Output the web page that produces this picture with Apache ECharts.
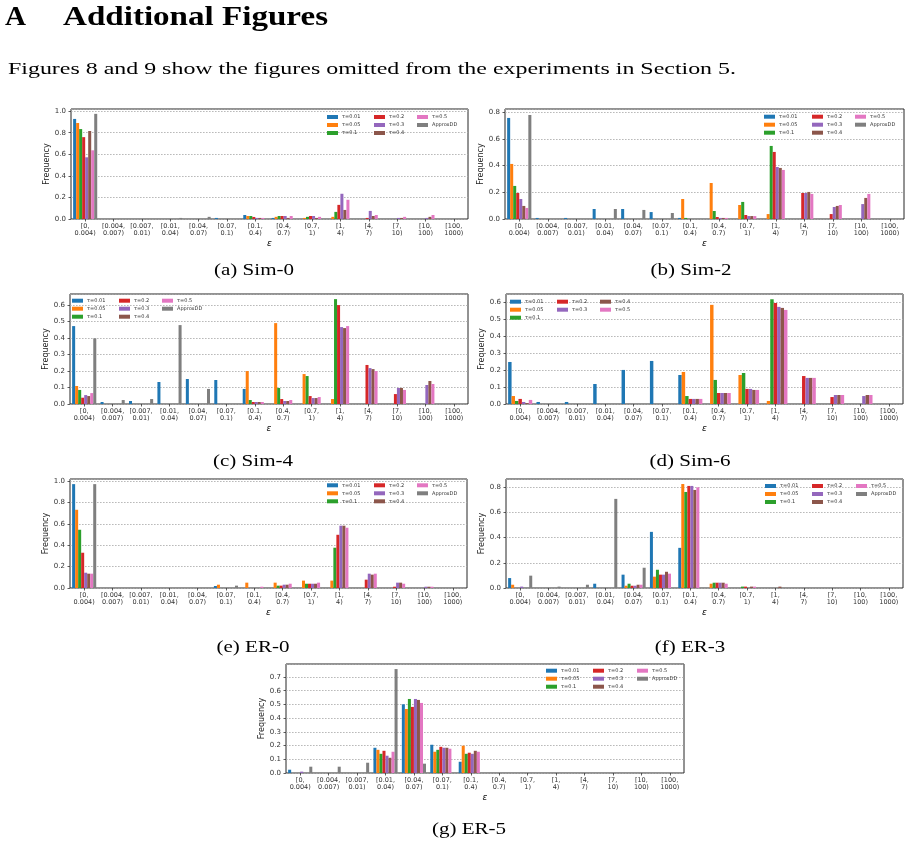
<!DOCTYPE html>
<html><head><meta charset="utf-8">
<script src="https://cdn.jsdelivr.net/npm/echarts@6/dist/echarts.min.js"></script>
<style>html,body{margin:0;padding:0;background:#fff}#c{width:911px;height:846px}</style>
</head><body><div id="c"></div>
<script>
// ---------- categories / names ----------
const categories = ['[0,\n0.004)','[0.004,\n0.007)','[0.007,\n0.01)','[0.01,\n0.04)','[0.04,\n0.07)','[0.07,\n0.1)','[0.1,\n0.4)','[0.4,\n0.7)','[0.7,\n1)','[1,\n4)','[4,\n7)','[7,\n10)','[10,\n100)','[100,\n1000)'];
const seriesNames = ['τ=0.01','τ=0.05','τ=0.1','τ=0.2','τ=0.3','τ=0.4','τ=0.5','ApproxDD'];
const yTicks1 = [0,0.2,0.4,0.6,0.8,1.0];
// ---------- Sim-0 ----------
const sim0_t001 = [0.928,0,0,0,0,0.01,0.037,0.01,0,0,0,0,0,0];
const sim0_t005 = [0.89,0,0,0,0,0,0.028,0.02,0.01,0.02,0,0,0,0];
const sim0_t01  = [0.834,0,0,0,0,0,0.028,0.028,0.02,0.066,0,0,0,0];
const sim0_t02  = [0.759,0,0,0,0,0,0.019,0.028,0.028,0.131,0.01,0,0,0];
const sim0_t03  = [0.572,0,0,0,0,0,0.01,0.028,0.028,0.234,0.075,0.01,0.01,0];
const sim0_t04  = [0.816,0,0,0,0,0,0.01,0.01,0.01,0.084,0.028,0.01,0.02,0];
const sim0_t05  = [0.637,0,0,0,0,0,0.01,0.028,0.02,0.178,0.037,0.02,0.037,0];
const sim0_dd   = [0.975,0,0,0.01,0.02,0,0,0,0,0,0,0,0,0];
// ---------- Sim-2 ----------
const sim2_t001 = [0.758,0.008,0.008,0.075,0.075,0.052,0.008,0,0,0,0,0,0,0];
const sim2_t005 = [0.413,0,0,0,0,0,0.15,0.27,0.105,0.037,0,0,0,0];
const sim2_t01  = [0.248,0,0,0,0,0,0.008,0.06,0.128,0.548,0,0,0,0];
const sim2_t02  = [0.195,0,0,0,0,0,0,0.015,0.03,0.503,0.195,0.037,0,0];
const sim2_t03  = [0.15,0,0,0,0,0,0,0.008,0.022,0.39,0.195,0.09,0.112,0];
const sim2_t04  = [0.098,0,0,0,0,0,0,0.008,0.022,0.383,0.203,0.098,0.158,0];
const sim2_t05  = [0.083,0,0,0,0,0,0,0.008,0.022,0.368,0.188,0.105,0.188,0];
const sim2_dd   = [0.78,0,0,0.075,0.068,0.045,0,0,0,0,0,0,0,0];
// ---------- Sim-4 ----------
const sim4_t001 = [0.471,0.012,0.018,0.133,0.151,0.145,0.091,0,0,0,0,0,0,0];
const sim4_t005 = [0.109,0,0,0,0,0,0.199,0.489,0.181,0.03,0,0,0,0];
const sim4_t01  = [0.085,0,0,0,0,0,0.024,0.097,0.169,0.634,0,0,0,0];
const sim4_t02  = [0.038,0,0,0,0,0,0.012,0.03,0.048,0.598,0.236,0.06,0,0];
const sim4_t03  = [0.054,0,0,0,0,0,0.012,0.018,0.036,0.465,0.217,0.097,0.115,0];
const sim4_t04  = [0.048,0,0,0,0,0,0.012,0.018,0.036,0.459,0.211,0.097,0.139,0];
const sim4_t05  = [0.066,0,0,0,0,0,0.012,0.024,0.042,0.471,0.199,0.085,0.121,0];
const sim4_dd   = [0.397,0.024,0.03,0.477,0.091,0,0,0,0,0,0,0,0,0];
// ---------- Sim-6 (no ApproxDD) ----------
const sim6_t001 = [0.248,0.012,0.012,0.118,0.201,0.254,0.171,0,0,0,0,0,0,0];
const sim6_t005 = [0.047,0,0,0,0,0,0.189,0.585,0.171,0.018,0,0,0,0];
const sim6_t01  = [0.018,0,0,0,0,0,0.047,0.142,0.183,0.618,0,0,0,0];
const sim6_t02  = [0.03,0,0,0,0,0,0.03,0.065,0.089,0.596,0.165,0.041,0,0];
const sim6_t03  = [0.012,0,0,0,0,0,0.03,0.065,0.089,0.573,0.154,0.053,0.047,0];
const sim6_t04  = [0.006,0,0,0,0,0,0.03,0.065,0.083,0.567,0.154,0.053,0.053,0];
const sim6_t05  = [0.024,0,0,0,0,0,0.03,0.065,0.083,0.555,0.154,0.053,0.053,0];
// ---------- ER-0 ----------
const er0_t001 = [0.972,0,0,0,0,0.019,0,0,0,0,0,0,0,0];
const er0_t005 = [0.732,0,0,0,0,0.031,0.05,0.05,0.069,0.069,0,0,0,0];
const er0_t01  = [0.545,0,0,0,0,0,0,0.022,0.04,0.377,0,0,0,0];
const er0_t02  = [0.33,0,0,0,0,0,0,0.022,0.04,0.498,0.078,0.012,0,0];
const er0_t03  = [0.143,0,0,0,0,0,0,0.031,0.04,0.583,0.134,0.05,0.012,0];
const er0_t04  = [0.134,0,0,0,0,0,0,0.031,0.04,0.583,0.125,0.05,0.012,0];
const er0_t05  = [0.134,0,0,0,0,0,0.012,0.04,0.05,0.564,0.134,0.04,0.012,0];
const er0_dd   = [0.972,0,0,0,0,0.022,0,0,0,0,0,0,0,0];
// ---------- ER-3 ----------
const er3_t001 = [0.079,0,0,0.034,0.106,0.446,0.319,0,0,0,0,0,0,0];
const er3_t005 = [0.026,0,0,0,0.018,0.09,0.826,0.034,0,0,0,0,0,0];
const er3_t01  = [0,0,0,0,0.034,0.145,0.763,0.042,0.011,0,0,0,0,0];
const er3_t02  = [0,0,0,0,0.018,0.106,0.811,0.042,0.011,0,0,0,0,0];
const er3_t03  = [0.011,0,0,0,0.018,0.106,0.811,0.042,0,0,0,0,0,0];
const er3_t04  = [0,0,0,0,0.026,0.129,0.779,0.042,0.011,0.011,0,0,0,0];
const er3_t05  = [0,0,0,0,0.026,0.114,0.8,0.034,0.011,0,0,0,0,0];
const er3_dd   = [0.098,0.011,0.026,0.708,0.161,0,0,0,0,0,0,0,0,0];
// ---------- ER-5 ----------
const er5_t001 = [0.024,0,0,0.184,0.501,0.206,0.082,0,0,0,0,0,0,0];
const er5_t005 = [0,0,0,0.169,0.467,0.155,0.199,0,0,0,0,0,0,0];
const er5_t01  = [0,0,0,0.14,0.54,0.169,0.14,0,0,0,0,0,0,0];
const er5_t02  = [0,0,0,0.162,0.482,0.191,0.148,0,0,0,0,0,0,0];
const er5_t03  = [0.01,0,0,0.126,0.54,0.184,0.14,0,0,0,0,0,0,0];
const er5_t04  = [0,0,0,0.111,0.533,0.184,0.162,0,0,0,0,0,0,0];
const er5_t05  = [0,0,0,0.155,0.511,0.177,0.155,0,0,0,0,0,0,0];
const er5_dd   = [0.046,0.046,0.075,0.758,0.068,0,0,0,0,0,0,0,0,0];

// ---------- layout / style ----------
const colors = ['#1f77b4','#ff7f0e','#2ca02c','#d62728','#9467bd','#8c564b','#e377c2','#7f7f7f'];
const panels = [
  {series:[sim0_t001,sim0_t005,sim0_t01,sim0_t02,sim0_t03,sim0_t04,sim0_t05,sim0_dd], box:[71,109,397,110], ymax:1.02, yint:0.2, lx:[327,374,417], ly:114, cap:'(a) Sim-0', cx:254, cy:270},
  {series:[sim2_t001,sim2_t005,sim2_t01,sim2_t02,sim2_t03,sim2_t04,sim2_t05,sim2_dd], box:[505,109,399,110], ymax:0.825, yint:0.2, lx:[764,812,855], ly:113.7, cap:'(b) Sim-2', cx:691, cy:270},
  {series:[sim4_t001,sim4_t005,sim4_t01,sim4_t02,sim4_t03,sim4_t04,sim4_t05,sim4_dd], box:[70,294,398,110], ymax:0.665, yint:0.1, lx:[72,119,162], ly:297.7, cap:'(c) Sim-4', cx:253, cy:461},
  {series:[sim6_t001,sim6_t005,sim6_t01,sim6_t02,sim6_t03,sim6_t04,sim6_t05], box:[506,294,397,110], ymax:0.649, yint:0.1, lx:[510,557,600], ly:298.7, cap:'(d) Sim-6', cx:690, cy:461},
  {series:[er0_t001,er0_t005,er0_t01,er0_t02,er0_t03,er0_t04,er0_t05,er0_dd], box:[70,479,397,109], ymax:1.02, yint:0.2, lx:[327,374,417], ly:482.3, cap:'(e) ER-0', cx:253, cy:647},
  {series:[er3_t001,er3_t005,er3_t01,er3_t02,er3_t03,er3_t04,er3_t05,er3_dd], box:[506,479,397,109], ymax:0.866, yint:0.2, lx:[765,812,856], ly:483, cap:'(f) ER-3', cx:690, cy:647},
  {series:[er5_t001,er5_t005,er5_t01,er5_t02,er5_t03,er5_t04,er5_t05,er5_dd], box:[286,664,398,109], ymax:0.795, yint:0.1, lx:[546,593,637], ly:667.7, cap:'(g) ER-5', cx:469, cy:829}
];

const SANS = '"DejaVu Sans", sans-serif';
const grids = [], xAxes = [], yAxes = [], series = [], legends = [], graphics = [];

panels.forEach((p, i) => {
  const [l, t, w, h] = p.box;
  grids.push({left:l, top:t, width:w, height:h, show:true, borderColor:'#262626', borderWidth:1, backgroundColor:'transparent', containLabel:false});
  xAxes.push({
    type:'category', gridIndex:i, data:categories, boundaryGap:true,
    axisLine:{show:false}, axisTick:{show:true, alignWithLabel:true, length:2.5, lineStyle:{color:'#333', width:0.8}},
    axisLabel:{interval:0, fontSize:6.5, lineHeight:7.4, margin:3.5, color:'#333', fontFamily:SANS},
    name:'ε', nameLocation:'middle', nameGap:20,
    nameTextStyle:{fontSize:9, fontStyle:'italic', color:'#111', fontFamily:SANS},
    splitLine:{show:false}
  });
  const yint = p.yint;
  yAxes.push({
    type:'value', gridIndex:i, min:0, max:p.ymax, interval:yint,
    axisLine:{show:false}, axisTick:{show:true, length:2.5, lineStyle:{color:'#333', width:0.8}},
    axisLabel:{fontSize:7, margin:5, color:'#333', fontFamily:SANS, showMaxLabel:false,
      formatter: v => (Math.abs(v/yint - Math.round(v/yint)) < 1e-6) ? v.toFixed(1) : ''},
    splitLine:{show:true, lineStyle:{color:'#a8a8a8', width:0.8, type:[1.6,1.4]}},
    name:'Frequency', nameLocation:'middle', nameRotate:90, nameGap:20,
    nameTextStyle:{fontSize:8, color:'#222', fontFamily:SANS}
  });
  const names = seriesNames.slice(0, p.series.length);
  p.series.forEach((d, k) => {
    series.push({
      type:'bar', name:names[k], xAxisIndex:i, yAxisIndex:i, data:d,
      barGap:'0%', barCategoryGap:'15%',
      itemStyle:{color:colors[k]}, emphasis:{disabled:true}, animation:false
    });
  });
  const cols = names.length === 8 ? [[0,1,2],[3,4,5],[6,7]] : [[0,1,2],[3,4],[5,6]];
  cols.forEach((c, ci) => {
    legends.push({
      orient:'vertical', left:p.lx[ci], top:p.ly, padding:0, itemGap:2,
      itemWidth:11, itemHeight:4, icon:'rect', selectedMode:false,
      data:c.map(j => ({name:names[j], itemStyle:{color:colors[j]}})),
      textStyle:{fontSize:5, lineHeight:6, color:'#333', fontFamily:SANS, padding:[0,0,0,-1]}
    });
  });
});

// ---------- page texts ----------
const ctx = document.createElement('canvas').getContext('2d');
function fitScale(text, font, target){ ctx.font = font; return target / ctx.measureText(text).width; }
function txt(text, x, y, font, align, scaleX){
  return {type:'text', x:x, y:y, scaleX:scaleX, scaleY:1, silent:true,
    style:{text:text, font:font, fill:'#000', textAlign:align, textVerticalAlign:'middle', align:align, verticalAlign:'middle'}};
}
const HFONT = 'bold 27px "Liberation Serif", serif';
const PFONT = '17px "Liberation Serif", serif';
const CFONT = '17.5px "Liberation Serif", serif';
graphics.push(txt('A', 5, 18, HFONT, 'left', fitScale('A', HFONT, 21)));
graphics.push(txt('Additional Figures', 63, 18, HFONT, 'left', fitScale('Additional Figures', HFONT, 265)));
const para = 'Figures 8 and 9 show the figures omitted from the experiments in Section 5.';
graphics.push(txt(para, 8, 70, PFONT, 'left', fitScale(para, PFONT, 728)));
const capScale = fitScale('(a) Sim-0', CFONT, 80);
panels.forEach(p => graphics.push(txt(p.cap, p.cx, p.cy, CFONT, 'center', capScale)));

const chart = echarts.init(document.getElementById('c'), null, {renderer:'canvas'});
chart.setOption({
  backgroundColor:'#fff', animation:false,
  grid:grids, xAxis:xAxes, yAxis:yAxes, series:series, legend:legends, graphic:graphics
});
</script></body></html>
